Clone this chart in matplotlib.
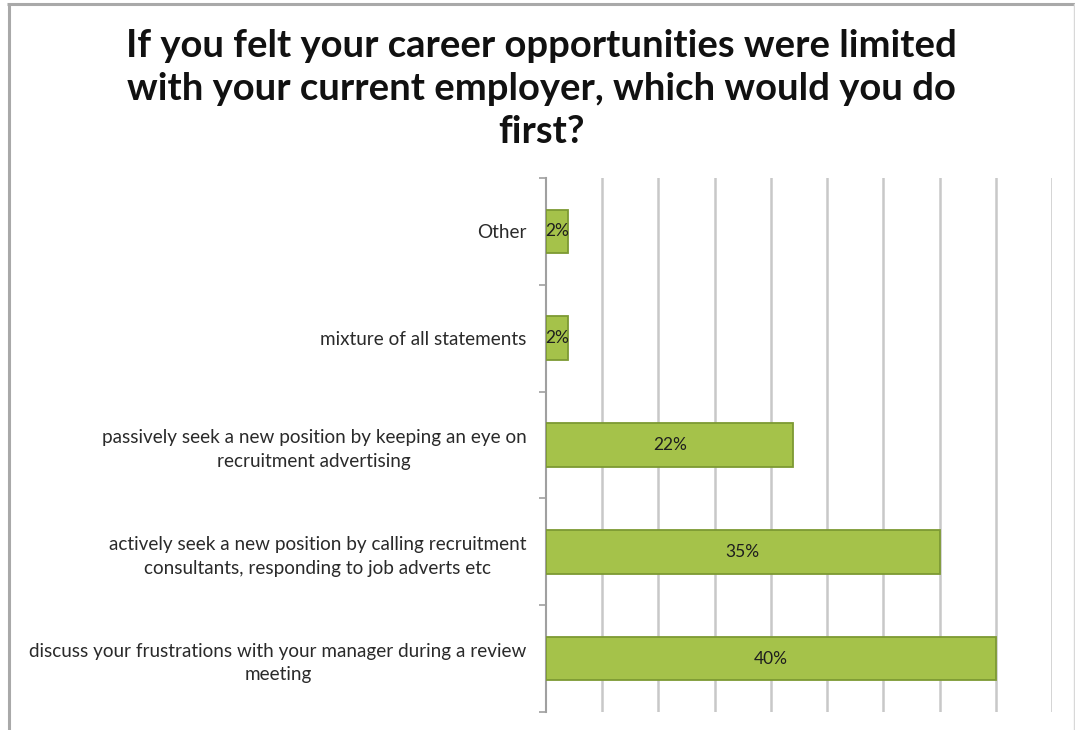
import matplotlib
matplotlib.use("Agg")
import matplotlib.pyplot as plt
from matplotlib.lines import Line2D

plt.rcParams['font.family'] = ['Lato', 'DejaVu Sans']

title = "If you felt your career opportunities were limited\nwith your current employer, which would you do\nfirst?"
categories = [
    "discuss your frustrations with your manager during a review\nmeeting",
    "actively seek a new position by calling recruitment\nconsultants, responding to job adverts etc",
    "passively seek a new position by keeping an eye on\nrecruitment advertising",
    "mixture of all statements",
    "Other",
]
values = [40, 35, 22, 2, 2]
value_labels = ["40%", "35%", "22%", "2%", "2%"]
x_max = 45
x_step = 5

W, H = 1075, 730
fig = plt.figure(figsize=(W / 100, H / 100), dpi=100)
fig.patch.set_facecolor("white")

# outer chart frame (left, top and right edges; bottom runs past the canvas)
frame_kw = dict(transform=fig.transFigure, color="#a9a9a9", solid_capstyle="butt")
fig.add_artist(Line2D([8.5 / W, 8.5 / W], [0, 1 - 4 / H], lw=2.2, **frame_kw))
fig.add_artist(Line2D([7.4 / W, 1], [1 - 4 / H, 1 - 4 / H], lw=2.2, **frame_kw))
fig.add_artist(Line2D([1073.5 / W, 1073.5 / W], [0, 1 - 4 / H], lw=1.0,
                      transform=fig.transFigure, color="#d8d8d8"))

fig.text(0.504, 1 - 89 / H, title, ha="center", va="center", fontsize=27.5,
         fontweight="bold", color="#111111", linespacing=1.32)

left, right = 546 / W, 1052 / W
top, bottom = 1 - 178 / H, 1 - 712 / H
ax = fig.add_axes([left, bottom, right - left, top - bottom])

ypos = list(range(len(categories)))
ax.barh(ypos, values, height=0.41, color="#a5c24a", edgecolor="#7d9a33",
        linewidth=1.3, zorder=3)
for y, v, lab in zip(ypos, values, value_labels):
    ax.text(v / 2, y, lab, ha="center", va="center", fontsize=12.5,
            color="#1e1e1e", zorder=4)

ax.set_xlim(0, x_max)
ax.set_ylim(-0.5, len(categories) - 0.5)

for x in range(x_step, x_max + 1, x_step):
    ax.axvline(x, color="#c8c8c8", lw=1.8, zorder=1)

ax.set_xticks([])
ax.set_yticks(ypos)
ax.set_yticklabels(categories, fontsize=13.6, color="#2a2a2a", linespacing=1.45)
for lbl in ax.get_yticklabels():
    lbl.set_multialignment("center")
ax.tick_params(axis="y", which="major", length=0, pad=14)
ax.set_yticks([y - 0.5 for y in ypos] + [len(categories) - 0.5], minor=True)
ax.tick_params(axis="y", which="minor", length=5, width=1.2, color="#a0a0a0")

for s in ("top", "right", "bottom"):
    ax.spines[s].set_visible(False)
ax.spines["left"].set_color("#a0a0a0")
ax.spines["left"].set_linewidth(1.5)
ax.set_facecolor("none")

fig.savefig("out.png", dpi=100)
